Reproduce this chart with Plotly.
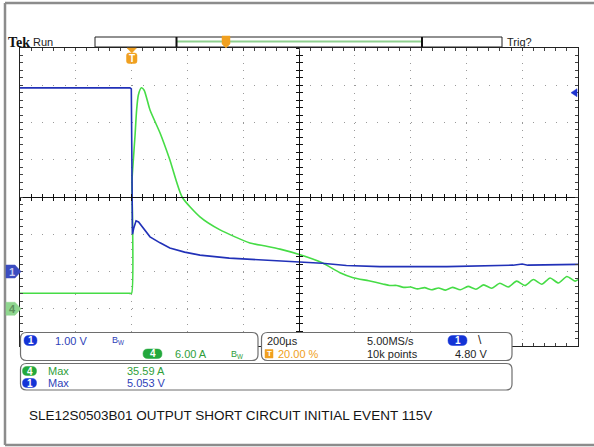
import plotly.graph_objects as go

# ---------------- data ----------------
# time axis (microseconds, trigger at 0), 200 us/div, trigger position 20 %
t_ch4 = [-400, -10, 0, 1.5, 5, 12, 18, 24, 35, 45, 66, 102, 137, 181, 245, 317, 424, 480, 532, 604,
         683, 747, 794, 850, 900, 925, 950, 975, 1000, 1025, 1050, 1075, 1100, 1125, 1150, 1178,
         1206, 1234, 1262, 1290, 1320, 1350, 1380, 1410, 1440, 1470, 1500, 1530, 1560, 1590, 1600]
i_ch4 = [2.5, 2.5, 2.5, 20.7, 23.2, 27.7, 32.0, 34.4, 35.59, 35.2, 32.0, 28.3, 24.0, 18.0, 14.8, 12.7,
         10.6, 10.1, 9.6, 8.7, 7.4, 5.8, 5.0, 4.5, 4.0, 3.75, 3.75, 3.45, 3.5, 3.2, 3.4, 3.05, 3.35, 3.0,
         3.45, 3.05, 3.6, 3.15, 3.85, 3.3, 4.1, 3.5, 4.45, 3.75, 4.7, 3.95, 4.95, 4.15, 5.2, 4.45, 4.7]

t_ch1 = [-400, -6, -1, 0, 1, 3, 8, 16, 25, 30, 66, 102, 137, 190, 245, 350, 460, 532, 604, 683,
         770, 890, 1130, 1367, 1400, 1420, 1600]
v_ch1 = [4.93, 4.93, 4.9, 3.6, 1.05, 1.0, 1.17, 1.36, 1.33, 1.28, 0.93, 0.77, 0.63, 0.52, 0.44,
         0.36, 0.31, 0.29, 0.26, 0.22, 0.16, 0.13, 0.13, 0.17, 0.2, 0.17, 0.19]

ch1_scale, ch1_pos = 1.00, -2.0   # V/div, divisions
ch4_scale, ch4_pos = 6.00, -3.0   # A/div, divisions
trig_level = 4.80
time_div = 200
t_start, t_end = -400, 1600

ch1_label = "1.00 V"
ch4_label = "6.00 A"
timebase_label = "200µs"
rate_label = "5.00MS/s"
trigpos_label = "20.00 %"
points_label = "10k points"
triglevel_label = "4.80 V"
max4_label = "35.59 A"
max1_label = "5.053 V"
caption = "SLE12S0503B01 OUTPUT SHORT CIRCUIT INITIAL EVENT 115V"

# ---------------- geometry helpers ----------------
W, H = 594, 447
L, R, T, B = 20, 578, 48, 346


def X(px):
    return (px - L) / (R - L)


def Y(py):
    return (B - py) / (B - T)


def rrect(x0, y0, x1, y1, r):
    pts = []
    p = lambda a, b: f"{X(a):.5f},{Y(b):.5f}"
    pts.append("M" + p(x0 + r, y0))
    pts.append("L" + p(x1 - r, y0))
    pts.append("Q" + p(x1, y0) + " " + p(x1, y0 + r))
    pts.append("L" + p(x1, y1 - r))
    pts.append("Q" + p(x1, y1) + " " + p(x1 - r, y1))
    pts.append("L" + p(x0 + r, y1))
    pts.append("Q" + p(x0, y1) + " " + p(x0, y1 - r))
    pts.append("L" + p(x0, y0 + r))
    pts.append("Q" + p(x0, y0) + " " + p(x0 + r, y0))
    return " ".join(pts) + " Z"


def poly(points):
    return "M" + " L".join(f"{X(a):.5f},{Y(b):.5f}" for a, b in points) + " Z"


BLUE_TR = "#2131b8"
GREEN_TR = "#46dc46"
BLUE_TX = "#2f3fb8"
GREEN_TX = "#2f9e3a"
BLUE_PILL = "#1434d6"
GREEN_PILL = "#23a83c"
ORANGE = "#f0a020"
FONT = "Liberation Sans, Arial, sans-serif"

fig = go.Figure()

fig.add_trace(go.Scatter(
    x=t_ch4, y=[v / ch4_scale + ch4_pos for v in i_ch4], mode="lines",
    line=dict(color=GREEN_TR, width=1.6, shape="spline", smoothing=0.6), hoverinfo="skip"))
fig.add_trace(go.Scatter(
    x=t_ch1, y=[v / ch1_scale + ch1_pos for v in v_ch1], mode="lines",
    line=dict(color=BLUE_TR, width=1.6), hoverinfo="skip"))

# empty traces to register the crosshair axes
for xa, ya in [("x2", "y"), ("x3", "y"), ("x", "y2"), ("x", "y3")]:
    fig.add_trace(go.Scatter(x=[], y=[], xaxis=xa, yaxis=ya, showlegend=False))

shapes = []
annotations = []

# outer grey frame
shapes.append(dict(type="line", xref="paper", yref="paper", x0=X(5), x1=X(5), y0=Y(3), y1=Y(445),
                   line=dict(color="#8c8c8c", width=2.5)))
shapes.append(dict(type="line", xref="paper", yref="paper", x0=X(5), x1=X(600), y0=Y(3), y1=Y(3),
                   line=dict(color="#8c8c8c", width=2.5)))
shapes.append(dict(type="line", xref="paper", yref="paper", x0=X(5), x1=X(600), y0=Y(445), y1=Y(445),
                   line=dict(color="#8c8c8c", width=2.5)))

# record bar
shapes.append(dict(type="rect", xref="paper", yref="paper", x0=X(95), x1=X(502), y0=Y(47), y1=Y(37),
                   line=dict(color="#222", width=1), fillcolor="white"))
shapes.append(dict(type="line", xref="paper", yref="paper", x0=X(177), x1=X(422), y0=Y(41.5), y1=Y(41.5),
                   line=dict(color="#8fd08f", width=2)))
for xx in (176.5, 422):
    shapes.append(dict(type="line", xref="paper", yref="paper", x0=X(xx), x1=X(xx), y0=Y(37), y1=Y(47),
                       line=dict(color="#111", width=2)))
# small trigger marker on record bar
shapes.append(dict(type="path", xref="paper", yref="paper",
                   path=poly([(222, 36), (230, 36), (230, 44), (226, 48), (222, 44)]),
                   fillcolor=ORANGE, line=dict(color=ORANGE, width=0.5)))

# trigger marker at top of graticule (time 0)
shapes.append(dict(type="path", xref="paper", yref="paper",
                   path=poly([(127, 48), (136.5, 48), (131.8, 53)]),
                   fillcolor=ORANGE, line=dict(color=ORANGE, width=0.5)))
shapes.append(dict(type="path", xref="paper", yref="paper", path=rrect(126.5, 53, 137, 63.5, 2.5),
                   fillcolor=ORANGE, line=dict(color=ORANGE, width=0.5)))
annotations.append(dict(x=0, xref="x", y=Y(58.5), yref="paper", text="<b>T</b>", showarrow=False,
                        font=dict(family=FONT, size=10, color="white"), xanchor="center", yanchor="middle",
                        xshift=0.5))

# trigger level arrow on the right
ty = trig_level / ch1_scale + ch1_pos
tpy = B - (ty + 4) / 8 * (B - T)
shapes.append(dict(type="path", xref="paper", yref="paper",
                   path=poly([(571, tpy), (577, tpy - 4), (577, tpy + 4)]),
                   fillcolor="#1f35d0", line=dict(color="#1f35d0", width=0.5)))

# channel ground markers on the left
for pos, fill, txtc, lab in [(ch1_pos, "#3b4cc0", "#c9cdf2", "1"), (ch4_pos, "#8fd68f", "#5d8f5d", "4")]:
    py = B - (pos + 4) / 8 * (B - T)
    shapes.append(dict(type="path", xref="paper", yref="paper",
                       path=poly([(6, py - 6.5), (15, py - 6.5), (21, py), (15, py + 6.5), (6, py + 6.5)]),
                       fillcolor=fill, line=dict(color=fill, width=0.5)))
    annotations.append(dict(x=X(12), xref="paper", y=pos, yref="y", text=f"<b>{lab}</b>", showarrow=False,
                            font=dict(family=FONT, size=11, color=txtc), xanchor="center", yanchor="middle"))

# bottom panels
panel_line = dict(color="#6e6e6e", width=1.2)
shapes.append(dict(type="path", xref="paper", yref="paper", path=rrect(20.5, 332.5, 258, 360.5, 6),
                   fillcolor="white", line=panel_line))
shapes.append(dict(type="path", xref="paper", yref="paper", path=rrect(261.5, 332.5, 512, 360.5, 6),
                   fillcolor="white", line=panel_line))
shapes.append(dict(type="path", xref="paper", yref="paper", path=rrect(20.5, 363.5, 512, 390, 6),
                   fillcolor="white", line=panel_line))


def pill(x0, y0, x1, y1, color, label):
    shapes.append(dict(type="path", xref="paper", yref="paper", path=rrect(x0, y0, x1, y1, (y1 - y0) / 2),
                       fillcolor=color, line=dict(color=color, width=0.5)))
    annotations.append(dict(x=X((x0 + x1) / 2), y=Y((y0 + y1) / 2), xref="paper", yref="paper",
                            text=f"<b>{label}</b>", showarrow=False,
                            font=dict(family=FONT, size=10, color="white"),
                            xanchor="center", yanchor="middle"))


def text(px, py, s, color="#1e1e1e", size=11, family=FONT):
    annotations.append(dict(x=X(px), y=Y(py), xref="paper", yref="paper", text=s, showarrow=False,
                            font=dict(family=family, size=size, color=color),
                            xanchor="left", yanchor="middle"))


pill(24, 335.5, 37, 345.5, BLUE_PILL, "1")
text(53, 340.7, ch1_label, BLUE_TX)
text(110, 340, "B<sub>W</sub>", BLUE_TX, size=9)
pill(143, 349, 162, 358.5, GREEN_PILL, "4")
text(173, 354, ch4_label, GREEN_TX)
text(229, 354, "B<sub>W</sub>", GREEN_TX, size=9)

text(265, 341, timebase_label)
text(365, 341, rate_label)
pill(448, 335.5, 467, 345.5, BLUE_PILL, "1")
text(476, 340, "\\", "#222", size=12)
shapes.append(dict(type="rect", xref="paper", yref="paper", x0=X(265), x1=X(273), y0=Y(358), y1=Y(349.5),
                   fillcolor=ORANGE, line=dict(color=ORANGE, width=0.5)))
annotations.append(dict(x=X(269), y=Y(353.8), xref="paper", yref="paper", text="<b>T</b>", showarrow=False,
                        font=dict(family=FONT, size=8, color="white"), xanchor="center", yanchor="middle"))
text(276, 354, trigpos_label, ORANGE)
text(365, 354, points_label)
text(453, 354, triglevel_label)

pill(22.5, 366.5, 36.5, 375.5, GREEN_PILL, "4")
text(46, 371, "Max", GREEN_TX)
text(125, 371, max4_label, GREEN_TX)
pill(22.5, 378.5, 36.5, 387.5, BLUE_PILL, "1")
text(46, 383, "Max", BLUE_TX)
text(125, 383, max1_label, BLUE_TX)

# header texts
text(6, 42.5, "<b>Tek</b>", "#111", size=14, family="Liberation Serif, serif")
text(31, 42, "Run", "#222", size=11)
text(505, 42, "Trig?", "#222", size=11)

# caption
text(27, 415, caption, "#141414", size=13.5)

cross = dict(range=[t_start, t_end], showline=True, linecolor="#111", linewidth=1, ticklen=3,
             tickcolor="#111", tickwidth=1, dtick=time_div / 5, tick0=t_start, showticklabels=False,
             showgrid=False, zeroline=False, anchor="free", position=0.5, overlaying="x")
crossy = dict(range=[-4, 4], showline=True, linecolor="#111", linewidth=1, ticklen=3,
              tickcolor="#111", tickwidth=1, dtick=0.2, tick0=-4, showticklabels=False,
              showgrid=False, zeroline=False, anchor="free", position=0.5, overlaying="y")

fig.update_layout(
    width=W, height=H,
    margin=dict(l=L, r=W - R, t=T, b=H - B, pad=0),
    paper_bgcolor="white", plot_bgcolor="white",
    showlegend=False, hovermode=False,
    xaxis=dict(range=[t_start, t_end], dtick=time_div, tick0=t_start, showgrid=True, gridcolor="#9a9a9a",
               gridwidth=1, griddash="1px,6.45px", zeroline=False, showticklabels=False,
               showline=True, linecolor="#222", linewidth=1, mirror="ticks", ticks="inside", ticklen=3,
               tickcolor="#444",
               minor=dict(dtick=time_div / 5, ticks="inside", ticklen=3, tickcolor="#444", showgrid=False)),
    yaxis=dict(range=[-4, 4], dtick=1, tick0=-4, showgrid=True, gridcolor="#9a9a9a", gridwidth=1,
               griddash="1px,10.16px", zeroline=False, showticklabels=False,
               showline=True, linecolor="#222", linewidth=1, mirror="ticks", ticks="inside", ticklen=3,
               tickcolor="#444",
               minor=dict(dtick=0.2, ticks="inside", ticklen=3, tickcolor="#444", showgrid=False)),
    xaxis2=dict(cross, ticks="outside"),
    xaxis3=dict(cross, ticks="inside"),
    yaxis2=dict(crossy, ticks="outside"),
    yaxis3=dict(crossy, ticks="inside"),
    shapes=shapes,
    annotations=annotations,
)

fig.write_html("out.html", config={"displayModeBar": False, "staticPlot": True},
               post_script="document.body.style.margin='0';document.body.style.overflow='hidden';")
